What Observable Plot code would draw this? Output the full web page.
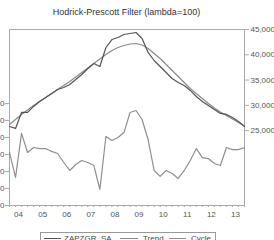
<!DOCTYPE html>
<html>
<head>
<meta charset="utf-8">
<script src="https://cdn.jsdelivr.net/npm/d3@7"></script>
<script src="https://cdn.jsdelivr.net/npm/@observablehq/plot@0.6"></script>
<style>
  html, body { margin: 0; padding: 0; background: #fff; }
  #wrap { position: relative; width: 274px; height: 240px; overflow: hidden; background: #fff;
          font-family: "Liberation Sans", Arial, sans-serif; }
  #title { position: absolute; left: 0; top: 7px; width: 253px; text-align: center; font-size: 9px; color: #333; }
  #chart { position: absolute; left: 0; top: 20px; width: 274px; height: 205px; }
  #chart svg { position: absolute; left: 0; top: 0; }
  #legend { position: absolute; left: 40px; top: 232px; width: 174px; height: 14px; border: 1px solid #999; font-size: 8px; color: #444; }
  #legend .ln { position: absolute; top: 5px; height: 0; border-top: 1px solid; }
  #legend .tx { position: absolute; top: 1px; white-space: nowrap; }
</style>
</head>
<body>
<div id="wrap">
  <div id="title">Hodrick-Prescott Filter (lambda=100)</div>
  <div id="chart"></div>
  <div id="legend"></div>
</div>
<script>
const yearLabels = ["04","05","06","07","08","09","10","11","12","13"];
const seriesValues = [25830,25440,28600,28600,29790,30770,31560,32350,33140,33540,
                      34130,35120,36110,37290,38280,37690,41440,43020,43420,44010,
                      44210,44410,43220,40460,38870,37690,36500,35320,34530,33930,
                      32950,31760,30770,29980,29190,28400,28200,27610,26820,25830];
const trendValues = [26230,27220,28200,29090,29980,30770,31560,32350,33140,33930,
                     34720,35610,36500,37390,38280,39170,40060,40850,41440,41840,
                     42130,42230,41940,41250,40260,39270,38080,36900,35710,34530,
                     33340,32350,31370,30380,29490,28700,28010,27310,26620,25930];
const cycleValues = [120,-1350,1240,120,410,350,350,180,60,-470,
                     -940,-590,-350,-470,-650,-2060,1060,820,1000,1290,
                     2470,2590,2060,880,-940,-1290,-940,-1120,-1410,-940,
                     -350,350,-180,-240,-530,-650,410,290,290,410];
const rightTicks = [25000,30000,35000,40000,45000];
const leftTicks = [-3000,-2000,-1000,0,1000,2000,3000];
const legendNames = ["ZAPZGR_SA","Trend","Cycle"];
const colors = ["#555","#8a8a8a","#8f8f8f"];

const idx = seriesValues.map((_, i) => i);
const data = idx.map(i => ({i, s: seriesValues[i], t: trendValues[i], c: cycleValues[i]}));
const labelPos = yearLabels.map((_, k) => 1.5 + 4 * k);
const labelMap = new Map(labelPos.map((p, k) => [p, yearLabels[k]]));

const common = {
  width: 274, height: 205,
  marginTop: 9, marginBottom: 20, marginLeft: 9, marginRight: 30
};

const p1 = Plot.plot({
  ...common,
  x: {domain: [0, 39]},
  style: {background: "white", fontFamily: "Liberation Sans, Arial, sans-serif", fontSize: "8px", color: "#555"},
  y: {domain: [10200, 45000]},
  marks: [
    Plot.frame({stroke: "#aaa"}),
    Plot.axisX({ticks: idx, tickSize: 2, tickFormat: () => "", stroke: "#aaa", label: null}),
    Plot.axisX({ticks: labelPos, tickSize: 0, tickPadding: 6, tickFormat: d => labelMap.get(d), fill: "#555", label: null}),
    Plot.axisY({ticks: rightTicks, anchor: "right", tickSize: 4, tickPadding: 2, tickFormat: d3.format(","), stroke: "#aaa", fill: "#555", label: null}),
    Plot.line(data, {x: "i", y: "t", stroke: colors[1], strokeWidth: 1.2}),
    Plot.line(data, {x: "i", y: "s", stroke: colors[0], strokeWidth: 1.2})
  ]
});

const p2 = Plot.plot({
  ...common,
  x: {domain: [0, 39], axis: null},
  style: {background: "transparent", fontFamily: "Liberation Sans, Arial, sans-serif", fontSize: "8px", color: "#555"},
  y: {domain: [-3000, 7353]},
  marks: [
    Plot.axisY({ticks: leftTicks, anchor: "left", tickSize: 4, tickPadding: 1, tickFormat: d3.format(","), stroke: "#aaa", fill: "#555", label: null}),
    Plot.line(data, {x: "i", y: "c", stroke: colors[2], strokeWidth: 1.2})
  ]
});

const chart = document.getElementById("chart");
chart.appendChild(p1);
chart.appendChild(p2);

const legend = document.getElementById("legend");
const items = [
  {l0: 3, l1: 20, t: 23},
  {l0: 79, l1: 97, t: 102},
  {l0: 128, l1: 145, t: 150}
];
items.forEach((it, k) => {
  const ln = document.createElement("div");
  ln.className = "ln";
  ln.style.left = it.l0 + "px";
  ln.style.width = (it.l1 - it.l0) + "px";
  ln.style.borderTopColor = colors[k];
  legend.appendChild(ln);
  const tx = document.createElement("div");
  tx.className = "tx";
  tx.style.left = it.t + "px";
  tx.textContent = legendNames[k];
  legend.appendChild(tx);
});
</script>
</body>
</html>
